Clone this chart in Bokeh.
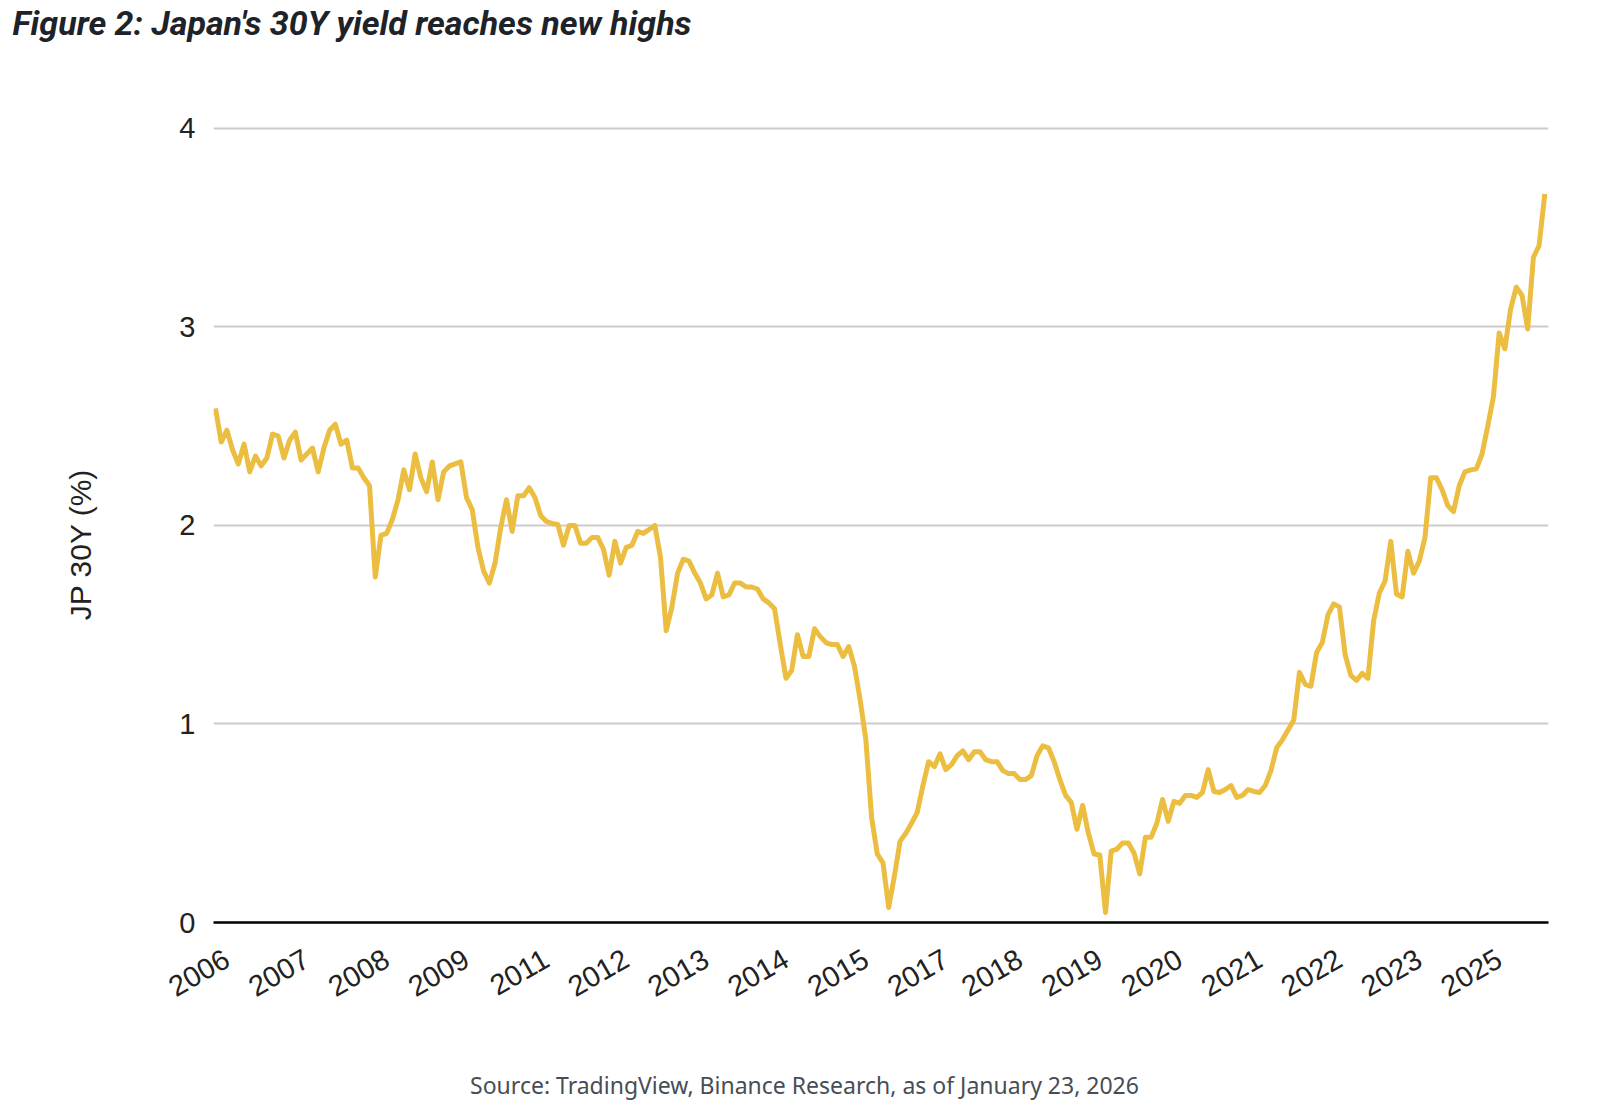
from math import pi
from bokeh.plotting import figure
from bokeh.layouts import column, row
from bokeh.models import Range1d, FixedTicker
from bokeh.core.properties import value
from bokeh.embed import file_html
from bokeh.resources import INLINE

# ---------------- data ----------------
title_text = "Figure 2: Japan's 30Y yield reaches new highs"
y_axis_title = "JP 30Y (%)"
source_text = "Source: TradingView, Binance Research, as of January 23, 2026"

year_labels = ["2006", "2007", "2008", "2009", "2011", "2012", "2013", "2014", "2015",
               "2017", "2018", "2019", "2020", "2021", "2022", "2023", "2025"]
y_ticks = [0, 1, 2, 3, 4]

yield_part1 = [2.59, 2.42, 2.48, 2.38, 2.31, 2.41, 2.27, 2.35, 2.30, 2.34, 2.46, 2.45, 2.34, 2.43,
               2.47, 2.33, 2.36, 2.39, 2.27, 2.39, 2.48, 2.51, 2.41, 2.43, 2.29, 2.29, 2.24, 2.20]
yield_part2 = [1.74, 1.95, 1.96, 2.03, 2.13, 2.28, 2.18, 2.36, 2.24, 2.17, 2.32, 2.13, 2.27, 2.30,
               2.31, 2.32, 2.14, 2.08, 1.89, 1.77, 1.71, 1.81, 1.99, 2.13, 1.97, 2.15, 2.15, 2.19, 2.14]
yield_part3 = [2.05, 2.02, 2.01, 2.005, 1.90, 2.00, 2.00, 1.91, 1.91, 1.94, 1.94, 1.88, 1.75, 1.92,
               1.81, 1.89, 1.90, 1.97, 1.96, 1.98, 2.00, 1.84, 1.47, 1.59, 1.76, 1.83, 1.82, 1.76]
yield_part4 = [1.71, 1.63, 1.65, 1.76, 1.64, 1.65, 1.71, 1.71, 1.69, 1.69, 1.68, 1.63, 1.61, 1.58,
               1.40, 1.23, 1.27, 1.45, 1.34, 1.34, 1.48, 1.44, 1.41, 1.40, 1.40, 1.34, 1.39, 1.29,
               1.12, 0.92]
yield_part5 = [0.53, 0.345, 0.30, 0.076, 0.235, 0.41, 0.45, 0.50, 0.555, 0.69, 0.81, 0.785, 0.85,
               0.77, 0.795, 0.84, 0.865, 0.82, 0.86, 0.86, 0.82, 0.81, 0.81, 0.765, 0.75, 0.75,
               0.72, 0.72]
yield_part6 = [0.74, 0.84, 0.89, 0.88, 0.81, 0.72, 0.64, 0.605, 0.47, 0.59, 0.45, 0.345, 0.34, 0.05,
               0.36, 0.37, 0.40, 0.40, 0.35, 0.245, 0.43, 0.43, 0.50, 0.62, 0.51, 0.61, 0.60, 0.64,
               0.64]
yield_part7 = [0.63, 0.655, 0.77, 0.66, 0.655, 0.67, 0.69, 0.63, 0.64, 0.67, 0.66, 0.655, 0.69,
               0.765, 0.88, 0.92, 0.97, 1.02, 1.26, 1.20, 1.19, 1.36, 1.41, 1.55, 1.605, 1.59, 1.35,
               1.245, 1.22, 1.255]
yield_part8 = [1.23, 1.52, 1.66, 1.72, 1.92, 1.655, 1.64, 1.87, 1.76, 1.82, 1.94, 2.24, 2.24, 2.18,
               2.10, 2.07, 2.20, 2.27, 2.28, 2.285, 2.36, 2.50, 2.65, 2.97, 2.89, 3.09, 3.20, 3.16,
               2.99, 3.35, 3.41, 3.67]

jp30y = (yield_part1 + yield_part2 + yield_part3 + yield_part4 +
         yield_part5 + yield_part6 + yield_part7 + yield_part8)
idx = list(range(len(jp30y)))

# ---------------- layout (page px) ----------------
PAGE_W = 1596
TITLE_H = 60
MID_H = 980
SRC_H = 70
YLAB_W = 120
MAIN_W = PAGE_W - YLAB_W
FRAME_L, FRAME_R = 213, 1548          # page x of plot frame
FRAME_T, FRAME_B = 120, 922           # page y of plot frame


def text_strip(w, h):
    f = figure(width=w, height=h, output_backend="svg", toolbar_location=None,
               x_range=Range1d(0, w), y_range=Range1d(0, h),
               x_axis_type=None, y_axis_type=None, min_border=0)
    f.outline_line_color = None
    f.background_fill_color = "white"
    f.border_fill_color = "white"
    f.grid.visible = False
    return f


# title strip
tfig = text_strip(PAGE_W, TITLE_H)
tfig.text(x=[12], y=[TITLE_H - 22], text=[title_text],
          text_font=value("Roboto"), text_font_style="bold italic",
          text_font_size=value("34px"), text_color="#1E2329",
          text_align="left", text_baseline="middle")

# y-axis title strip
yfig = text_strip(YLAB_W, MID_H)
yfig.text(x=[80], y=[MID_H - (578 - TITLE_H)], text=[y_axis_title], angle=pi / 2,
          text_font=value("Liberation Sans"), text_font_size=value("30px"),
          text_color="#222222", text_align="center", text_baseline="middle")

# main chart
p = figure(width=MAIN_W, height=MID_H, output_backend="svg", toolbar_location=None,
           x_range=Range1d(-0.35, len(jp30y) - 1 + 0.65), y_range=Range1d(0, 4.04),
           min_border_left=FRAME_L - YLAB_W, min_border_right=MAIN_W - (FRAME_R - YLAB_W),
           min_border_top=FRAME_T - TITLE_H, min_border_bottom=(TITLE_H + MID_H) - FRAME_B)
p.outline_line_color = None
p.background_fill_color = "white"
p.border_fill_color = "white"

p.line(idx, jp30y, line_color="#EBBD41", line_width=5, line_join="round")

n_lab = len(year_labels)
first_tick, last_tick = 2.4, 224.8
tick_pos = [int(round(first_tick + (last_tick - first_tick) * k / (n_lab - 1))) for k in range(n_lab)]
p.xaxis.ticker = FixedTicker(ticks=tick_pos)
p.xaxis.major_label_overrides = {t: lab for t, lab in zip(tick_pos, year_labels)}
p.xaxis.major_label_orientation = pi / 6
p.xaxis.axis_line_color = "black"
p.xaxis.axis_line_width = 2.5
p.xaxis.major_tick_line_color = None
p.xaxis.minor_tick_line_color = None
p.xaxis.major_tick_out = 0
p.xaxis.major_label_standoff = 34
p.xaxis.major_label_text_font = "Liberation Sans"
p.xaxis.major_label_text_font_size = "29px"
p.xaxis.major_label_text_color = "#222222"

p.yaxis.ticker = FixedTicker(ticks=y_ticks)
p.yaxis.axis_line_color = None
p.yaxis.major_tick_line_color = None
p.yaxis.minor_tick_line_color = None
p.yaxis.major_tick_out = 0
p.yaxis.major_label_standoff = 18
p.yaxis.major_label_text_font = "Liberation Sans"
p.yaxis.major_label_text_font_size = "29px"
p.yaxis.major_label_text_color = "#222222"

p.xgrid.grid_line_color = None
p.ygrid.ticker = FixedTicker(ticks=[t for t in y_ticks if t > 0])
p.ygrid.grid_line_color = "#cccccc"
p.ygrid.grid_line_width = 2

# source strip
sfig = text_strip(PAGE_W, SRC_H)
sfig.text(x=[804], y=[SRC_H - (1084 - TITLE_H - MID_H)], text=[source_text],
          text_font=value("Noto Sans"), text_font_size=value("23px"),
          text_color="#474D57", text_align="center", text_baseline="middle")

layout = column(tfig, row(yfig, p, spacing=0), sfig, spacing=0)
open("out.html", "w").write(file_html(layout, INLINE))
